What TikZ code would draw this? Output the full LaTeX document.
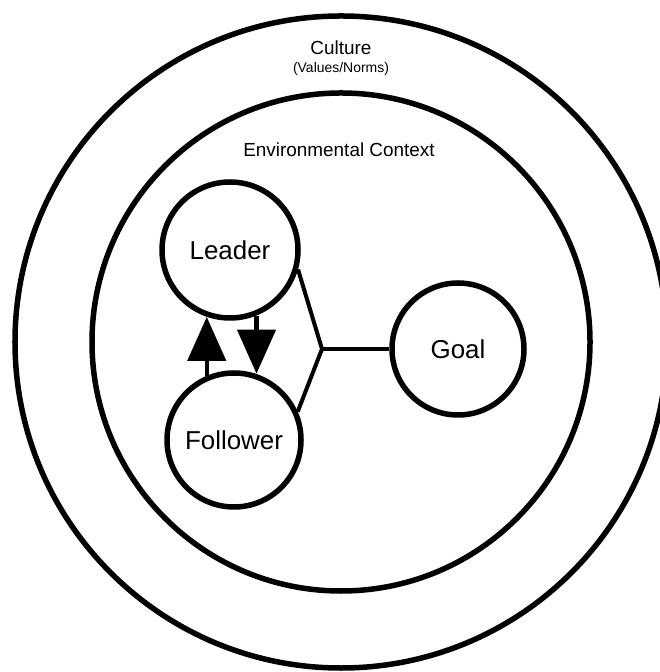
\documentclass[tikz,border=0pt]{standalone}
\usepackage{fontspec}
\setmainfont{Liberation Sans}
\usetikzlibrary{arrows.meta, positioning, calc}

\begin{document}
\begin{tikzpicture}[
    x=1bp, y=1bp,
    ring/.style={circle, draw=black, line width=5.5bp, inner sep=0pt},
    actor/.style={circle, draw=black, line width=5.5bp, inner sep=0pt,
                  minimum size=134bp, font=\fontsize{26}{30}\selectfont},
    link/.style={black, line width=4bp},
    arr/.style={-{Triangle[length=44bp, width=38bp]}, black, line width=4.5bp},
    lbl/.style={font=\fontsize{19}{22}\selectfont}
  ]
  \useasboundingbox (0,0) rectangle (660,672);
  \clip (0,0) rectangle (660,672);

  % Culture ring
  \node[ring, minimum size=652bp] (culture) at (341,330) {};
  \node[lbl] (culturelbl) at (341,624) {Culture};
  \node[font=\fontsize{14}{16}\selectfont] (values) at (341,603) {(Values/Norms)};

  % Environmental context ring
  \node[ring, minimum size=498bp] (context) at (341,330) {};
  \node[lbl] (contextlbl) at (339,522) {Environmental Context};

  % Leader, follower, goal
  \node[actor, minimum size=136bp] (leader) at (230,422) {Leader};
  \node[actor] (follower) at (234,232) {Follower};
  \node[actor, minimum size=132bp] (goal) at (458,323) {Goal};

  % Junction of the links
  \coordinate (join) at (322,323);
  \draw[link, line join=miter] (leader.-16) -- (join) -- (follower.24);
  \draw[link] (join) -- (goal);

  % Arrows: follower <-> leader
  \draw[arr] (follower.113) -- (follower.113 |- leader.251);
  \draw[arr] (leader.292) -- (leader.292 |- follower.72);

\end{tikzpicture}
\end{document}
